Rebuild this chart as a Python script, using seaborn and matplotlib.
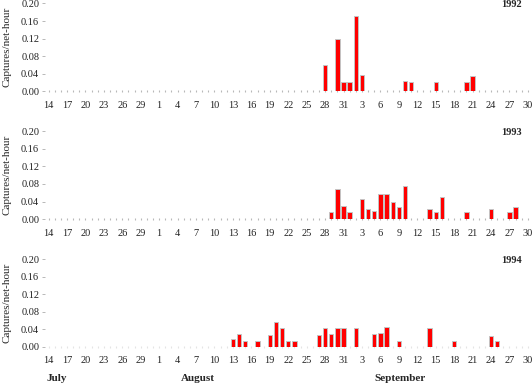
"""Bat captures per net-hour by day, July-September, 1992-1994."""
import matplotlib
matplotlib.use('Agg')
import matplotlib.pyplot as plt
import seaborn as sns
import pandas as pd
import numpy as np

# %%
# data (day -> captures/net-hour, 0 = netted but nothing caught)
dates_1992 = ['08-28', '08-29', '08-30', '08-31', '09-01', '09-02', '09-03',
              '09-10', '09-11', '09-12', '09-13', '09-14', '09-15', '09-16',
              '09-20', '09-21']
rates_1992 = [0.060, 0.0, 0.118, 0.020, 0.020, 0.171, 0.037,
              0.023, 0.020, 0.0, 0.0, 0.0, 0.020, 0.0,
              0.020, 0.035]

dates_1993 = ['08-29', '08-30', '08-31', '09-01', '09-02', '09-03', '09-04',
              '09-05', '09-06', '09-07', '09-08', '09-09', '09-10', '09-14',
              '09-15', '09-16', '09-20', '09-24', '09-25', '09-26', '09-27',
              '09-28']
rates_1993 = [0.015, 0.069, 0.030, 0.016, 0.0, 0.046, 0.023,
              0.018, 0.058, 0.058, 0.040, 0.027, 0.076, 0.023,
              0.016, 0.050, 0.016, 0.023, 0.0, 0.0, 0.016,
              0.027]

dates_1994 = ['08-13', '08-14', '08-15', '08-17', '08-19', '08-20', '08-21',
              '08-22', '08-23', '08-27', '08-28', '08-29', '08-30', '08-31',
              '09-02', '09-03', '09-05', '09-06', '09-07', '09-09', '09-14',
              '09-15', '09-18', '09-24', '09-25']
rates_1994 = [0.017, 0.030, 0.013, 0.013, 0.028, 0.056, 0.043,
              0.013, 0.013, 0.026, 0.043, 0.030, 0.043, 0.043,
              0.043, 0.0, 0.030, 0.031, 0.046, 0.013, 0.043,
              0.0, 0.013, 0.024, 0.013]

years = ['1992', '1993', '1994']
months = ['July', 'August', 'September']
y_ticks = [0.00, 0.04, 0.08, 0.12, 0.16, 0.20]

# every day of the season, 14 July to 30 September
season = pd.date_range('2000-07-14', '2000-09-30', freq='D')
all_days = list(season.strftime('%m-%d'))
day_labels = [str(d) for d in season.day]

series = {'1992': (dates_1992, rates_1992),
          '1993': (dates_1993, rates_1993),
          '1994': (dates_1994, rates_1994)}

# %%
sns.set_style('white')
plt.rcParams['font.family'] = ['Liberation Serif', 'DejaVu Serif']

fig = plt.figure(figsize=(5.32, 3.85), dpi=100)
bottoms = [0.763, 0.431, 0.099]

for year, bottom in zip(years, bottoms):
    ax = fig.add_axes([0.0855, bottom, 0.9126, 0.228])
    d, r = series[year]
    df = pd.DataFrame({'day': d, 'rate': r})

    sns.barplot(data=df, x='day', y='rate', order=all_days, color='#ff0000',
                saturation=1, width=0.72, edgecolor='#c4c4c4', linewidth=0.7,
                errorbar=None, ax=ax)

    ax.set_xlim(-0.5, len(all_days) - 0.5)
    ax.set_ylim(0, 0.2)
    ax.set_yticks(y_ticks)
    ax.set_yticklabels(['%.2f' % v for v in y_ticks])
    ax.set_xticks(np.arange(0, len(all_days), 3))
    ax.set_xticklabels(day_labels[::3])
    ax.set_xticks(np.arange(len(all_days)), minor=True)

    for s in ax.spines.values():
        s.set_visible(False)

    tick_col = '#e4e4e4' if year == '1994' else '#b8b8b8'
    ax.tick_params(axis='x', which='both', length=1.6, width=0.8,
                   color=tick_col, direction='inout', bottom=True)
    ax.tick_params(axis='x', which='major', labelsize=7.5, pad=6,
                   labelcolor='#222222')
    ax.tick_params(axis='y', length=2.5, width=0.7, color='#b8b8b8',
                   labelsize=7.5, pad=2, labelcolor='#222222', left=True)

    ax.set_xlabel('')
    ax.set_ylabel('Captures/net-hour', fontsize=8, labelpad=7)
    ax.text(0.982, 0.985, year, transform=ax.transAxes, ha='right',
            va='center', fontsize=7.5, fontweight='bold')

# month names under the last panel
for name, xpos in zip(months, [0.088, 0.340, 0.703]):
    fig.text(xpos, 0.016, name, ha='left', va='center', fontsize=8,
             fontweight='bold')

plt.savefig('out.png', dpi=100)
